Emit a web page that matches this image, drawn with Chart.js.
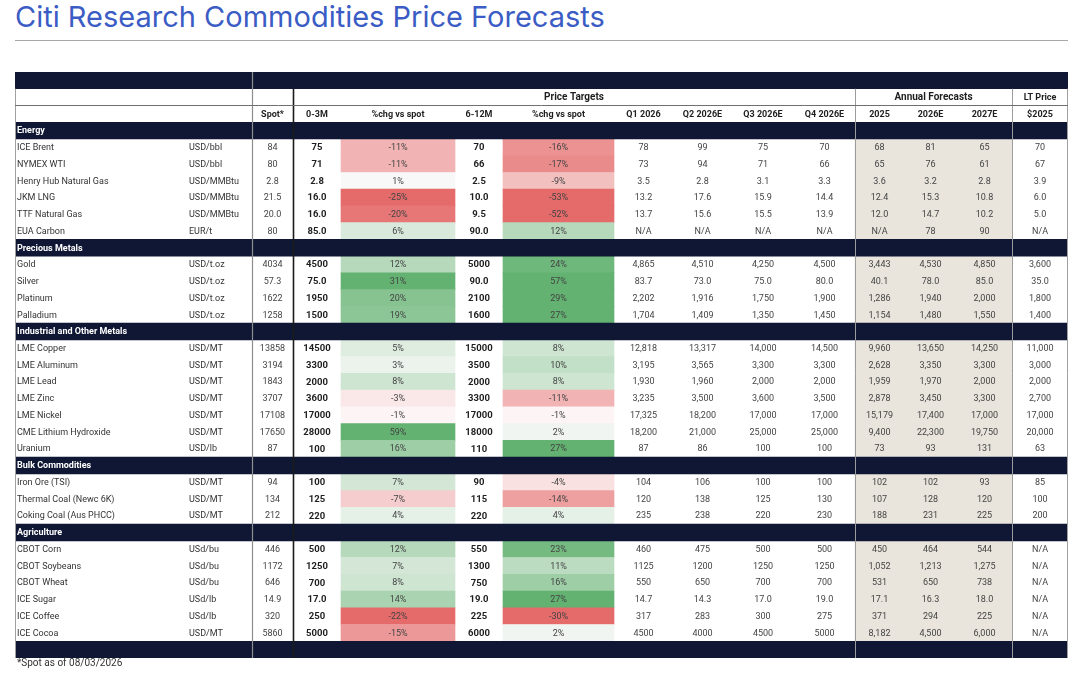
<!DOCTYPE html>
<html>
<head>
<meta charset="utf-8">
<title>Citi Research Commodities Price Forecasts</title>
<script src="https://cdn.jsdelivr.net/npm/chart.js@4.4.1/dist/chart.umd.min.js"></script>
<style>
  html, body { margin: 0; padding: 0; background: #fff; }
  body { width: 1080px; height: 673px; position: relative; overflow: hidden; }
  h1 { position: absolute; left: 15px; top: -1px; margin: 0; font: 400 29px Inter, sans-serif; color: #3b5cc4; white-space: nowrap; }
  .rule { position: absolute; left: 15px; top: 40px; width: 1053px; height: 1px; background: #a8a8a8; }
  #wrap { position: absolute; left: 15px; top: 72px; width: 1053px; height: 586px; }
  .note { position: absolute; left: 17px; top: 657px; font: 10px Roboto, sans-serif; color: #333; }
</style>
</head>
<body>
<h1>Citi Research Commodities Price Forecasts</h1>
<div class="rule"></div>
<div id="wrap"><canvas id="forecast-table" width="1053" height="586"></canvas></div>
<div class="note">*Spot as of 08/03/2026</div>

<script>
/* Data
############################################################################ */

const sections = ['Energy', 'Precious Metals', 'Industrial and Other Metals', 'Bulk Commodities', 'Agriculture'];
const sectionSizes = [6, 4, 7, 3, 6];

const commodities = [
  'ICE Brent', 'NYMEX WTI', 'Henry Hub Natural Gas', 'JKM LNG', 'TTF Natural Gas', 'EUA Carbon',
  'Gold', 'Silver', 'Platinum', 'Palladium',
  'LME Copper', 'LME Aluminum', 'LME Lead', 'LME Zinc', 'LME Nickel', 'CME Lithium Hydroxide', 'Uranium',
  'Iron Ore (TSI)', 'Thermal Coal (Newc 6K)', 'Coking Coal (Aus PHCC)',
  'CBOT Corn', 'CBOT Soybeans', 'CBOT Wheat', 'ICE Sugar', 'ICE Coffee', 'ICE Cocoa'
];
const units = [
  'USD/bbl', 'USD/bbl', 'USD/MMBtu', 'USD/MMBtu', 'USD/MMBtu', 'EUR/t',
  'USD/t.oz', 'USD/t.oz', 'USD/t.oz', 'USD/t.oz',
  'USD/MT', 'USD/MT', 'USD/MT', 'USD/MT', 'USD/MT', 'USD/MT', 'USD/lb',
  'USD/MT', 'USD/MT', 'USD/MT',
  'USd/bu', 'USd/bu', 'USd/bu', 'USd/lb', 'USd/lb', 'USD/MT'
];
const spot = [
  '84', '80', '2.8', '21.5', '20.0', '80',
  '4034', '57.3', '1622', '1258',
  '13858', '3194', '1843', '3707', '17108', '17650', '87',
  '94', '134', '212',
  '446', '1172', '646', '14.9', '320', '5860'
];
const target03 = [
  '75', '71', '2.8', '16.0', '16.0', '85.0',
  '4500', '75.0', '1950', '1500',
  '14500', '3300', '2000', '3600', '17000', '28000', '100',
  '100', '125', '220',
  '500', '1250', '700', '17.0', '250', '5000'
];
const chg03 = [
  -11, -11, 1, -25, -20, 6,
  12, 31, 20, 19,
  5, 3, 8, -3, -1, 59, 16,
  7, -7, 4,
  12, 7, 8, 14, -22, -15
];
const target612 = [
  '70', '66', '2.5', '10.0', '9.5', '90.0',
  '5000', '90.0', '2100', '1600',
  '15000', '3500', '2000', '3300', '17000', '18000', '110',
  '90', '115', '220',
  '550', '1300', '750', '19.0', '225', '6000'
];
const chg612 = [
  -16, -17, -9, -53, -52, 12,
  24, 57, 29, 27,
  8, 10, 8, -11, -1, 2, 27,
  -4, -14, 4,
  23, 11, 16, 27, -30, 2
];
const q1_2026 = [
  '78', '73', '3.5', '13.2', '13.7', 'N/A',
  '4,865', '83.7', '2,202', '1,704',
  '12,818', '3,195', '1,930', '3,235', '17,325', '18,200', '87',
  '104', '120', '235',
  '460', '1125', '550', '14.7', '317', '4500'
];
const q2_2026 = [
  '99', '94', '2.8', '17.6', '15.6', 'N/A',
  '4,510', '73.0', '1,916', '1,409',
  '13,317', '3,565', '1,960', '3,500', '18,200', '21,000', '86',
  '106', '138', '238',
  '475', '1200', '650', '14.3', '283', '4000'
];
const q3_2026 = [
  '75', '71', '3.1', '15.9', '15.5', 'N/A',
  '4,250', '75.0', '1,750', '1,350',
  '14,000', '3,300', '2,000', '3,600', '17,000', '25,000', '100',
  '100', '125', '220',
  '500', '1250', '700', '17.0', '300', '4500'
];
const q4_2026 = [
  '70', '66', '3.3', '14.4', '13.9', 'N/A',
  '4,500', '80.0', '1,900', '1,450',
  '14,500', '3,300', '2,000', '3,500', '17,000', '25,000', '100',
  '100', '130', '230',
  '500', '1250', '700', '19.0', '275', '5000'
];
const annual2025 = [
  '68', '65', '3.6', '12.4', '12.0', 'N/A',
  '3,443', '40.1', '1,286', '1,154',
  '9,960', '2,628', '1,959', '2,878', '15,179', '9,400', '73',
  '102', '107', '188',
  '450', '1,052', '531', '17.1', '371', '8,182'
];
const annual2026 = [
  '81', '76', '3.2', '15.3', '14.7', '78',
  '4,530', '78.0', '1,940', '1,480',
  '13,650', '3,350', '1,970', '3,450', '17,400', '22,300', '93',
  '102', '128', '231',
  '464', '1,213', '650', '16.3', '294', '4,500'
];
const annual2027 = [
  '65', '61', '2.8', '10.8', '10.2', '90',
  '4,850', '85.0', '2,000', '1,550',
  '14,250', '3,300', '2,000', '3,300', '17,000', '19,750', '131',
  '93', '120', '225',
  '544', '1,275', '738', '18.0', '225', '6,000'
];
const ltPrice = [
  '70', '67', '3.9', '6.0', '5.0', 'N/A',
  '3,600', '35.0', '1,800', '1,400',
  '11,000', '3,000', '2,000', '2,700', '17,000', '20,000', '63',
  '85', '100', '200',
  'N/A', 'N/A', 'N/A', 'N/A', 'N/A', 'N/A'
];

const columnHeaders = ['Spot*', '0-3M', '%chg vs spot', '6-12M', '%chg vs spot',
  'Q1 2026', 'Q2 2026E', 'Q3 2026E', 'Q4 2026E', '2025', '2026E', '2027E', '$2025'];
const groupHeaders = ['Price Targets', 'Annual Forecasts', 'LT Price'];

/* Layout
############################################################################ */

const TABLE_W = 1053;
const COLS = {
  name: [0, 172], unit: [172, 237], spot: [237, 278],
  t03: [278, 326], c03: [326, 440], t612: [440, 488], c612: [488, 599],
  q1: [599, 658], q2: [658, 717], q3: [717, 779], q4: [779, 840],
  y25: [840, 889], y26: [889, 942], y27: [942, 997], lt: [997, TABLE_W]
};
const valueCols = ['spot', 't03', 'c03', 't612', 'c612', 'q1', 'q2', 'q3', 'q4', 'y25', 'y26', 'y27', 'lt'];

const NAVY = '#0f1734';
const BEIGE = '#e9e4dc';
const FONT = 'Roboto, sans-serif';

const rows = [{ kind: 'band' }, { kind: 'group' }, { kind: 'head' }];
let k = 0;
sections.forEach((label, si) => {
  rows.push({ kind: 'section', label });
  for (let j = 0; j < sectionSizes[si]; j++) rows.push({ kind: 'data', i: k++ });
});
rows.push({ kind: 'band' });

const mix = (a, b, t) => a.map((v, n) => Math.round(v + (b[n] - v) * t));
const heat = (v) => {
  const mid = [253, 251, 252];
  const c = v < 0 ? mix(mid, [229, 106, 106], Math.min(1, -v / 22))
                  : mix(mid, [99, 178, 113], Math.min(1, v / 26));
  return `rgb(${c.join(',')})`;
};

const cellValues = (i) => ({
  spot: spot[i], t03: target03[i], c03: chg03[i] + '%', t612: target612[i], c612: chg612[i] + '%',
  q1: q1_2026[i], q2: q2_2026[i], q3: q3_2026[i], q4: q4_2026[i],
  y25: annual2025[i], y26: annual2026[i], y27: annual2027[i], lt: ltPrice[i]
});

/* Plugin: grid lines and cell texts
############################################################################ */

const tablePlugin = {
  id: 'tableText',
  afterDatasetsDraw(chart) {
    const { ctx, scales: { x, y } } = chart;
    const half = (y.getPixelForValue(1) - y.getPixelForValue(0)) / 2;
    const rowTop = (r) => y.getPixelForValue(r) - half;
    const bottom = y.getPixelForValue(rows.length - 1) + half;

    ctx.save();
    const vline = (xv, y0, y1, color, w) => {
      const px = Math.round(x.getPixelForValue(xv)) + 0.5;
      ctx.strokeStyle = color; ctx.lineWidth = w;
      ctx.beginPath(); ctx.moveTo(px, y0); ctx.lineTo(px, y1); ctx.stroke();
    };
    vline(COLS.spot[0], rowTop(0), bottom, '#8e8e8e', 1.2);
    vline(COLS.t03[0], rowTop(1), bottom, '#1b1b1b', 1.6);
    vline(COLS.y25[0], rowTop(1), bottom, '#9c9c9c', 1);
    vline(COLS.lt[0], rowTop(1), bottom, '#9c9c9c', 1);
    vline(0.3, rowTop(1), bottom, '#a0a0a0', 1);
    vline(TABLE_W - 0.7, rowTop(1), bottom, '#a0a0a0', 1);

    const hy = Math.round(rowTop(2)) + 0.5;
    ctx.strokeStyle = '#6f6f6f'; ctx.lineWidth = 1;
    ctx.beginPath(); ctx.moveTo(x.getPixelForValue(0), hy); ctx.lineTo(x.getPixelForValue(TABLE_W), hy); ctx.stroke();

    ctx.textBaseline = 'middle';
    const text = (txt, col, r, font, color, align) => {
      const [a, b] = Array.isArray(col) ? col : COLS[col];
      ctx.font = font; ctx.fillStyle = color; ctx.textAlign = align || 'center';
      const px = align === 'left' ? x.getPixelForValue(a) + 2 : x.getPixelForValue((a + b) / 2);
      ctx.fillText(txt, px, y.getPixelForValue(r) + 0.5);
    };

    rows.forEach((row, r) => {
      if (row.kind === 'group') {
        const f = `bold 10px ${FONT}`;
        text(groupHeaders[0], [COLS.t03[0], COLS.q4[1]], r, f, '#1e1e1e');
        text(groupHeaders[1], [COLS.y25[0], COLS.y27[1]], r, f, '#1e1e1e');
        text(groupHeaders[2], COLS.lt, r, `bold 9px ${FONT}`, '#1e1e1e');
      } else if (row.kind === 'head') {
        valueCols.forEach((c, n) => text(columnHeaders[n], c, r, `bold 9px ${FONT}`, '#1e1e1e'));
      } else if (row.kind === 'section') {
        text(row.label, 'name', r, `bold 9px ${FONT}`, '#ffffff', 'left');
      } else if (row.kind === 'data') {
        text(commodities[row.i], 'name', r, `9px ${FONT}`, '#333', 'left');
        text(units[row.i], 'unit', r, `9px ${FONT}`, '#333', 'left');
        const vals = cellValues(row.i);
        valueCols.forEach((c) => {
          const bold = c === 't03' || c === 't612';
          text(vals[c], c, r, `${bold ? 'bold 9.5px' : '9px'} ${FONT}`, bold ? '#1e1e1e' : '#444');
        });
      }
    });
    ctx.restore();
  }
};

/* Chart
############################################################################ */

const showForecastTable = () => {
  const isData = (r) => r.kind === 'data';

  new Chart(document.getElementById('forecast-table'), {
    type: 'bar',
    data: {
      labels: rows.map((r, n) => 'row' + n),
      datasets: [
        {
          label: 'bands',
          data: rows.map((r) => (r.kind === 'band' || r.kind === 'section') ? [0, TABLE_W] : null),
          backgroundColor: NAVY
        },
        {
          label: 'annual',
          data: rows.map((r) => isData(r) ? [COLS.y25[0], COLS.y27[1]] : null),
          backgroundColor: BEIGE
        },
        {
          label: 'chg 0-3M',
          data: rows.map((r) => isData(r) ? COLS.c03 : null),
          backgroundColor: rows.map((r) => isData(r) ? heat(chg03[r.i]) : 'transparent')
        },
        {
          label: 'chg 6-12M',
          data: rows.map((r) => isData(r) ? COLS.c612 : null),
          backgroundColor: rows.map((r) => isData(r) ? heat(chg612[r.i]) : 'transparent')
        }
      ]
    },
    options: {
      indexAxis: 'y',
      responsive: false,
      animation: false,
      layout: { padding: 0 },
      datasets: { bar: { grouped: false, barPercentage: 1, categoryPercentage: 1, borderWidth: 0 } },
      scales: {
        x: { type: 'linear', min: 0, max: TABLE_W, display: false },
        y: { type: 'category', offset: true, display: false }
      },
      plugins: { legend: { display: false }, tooltip: { enabled: false } }
    },
    plugins: [tablePlugin]
  });
};

/* Main
############################################################################ */

document.addEventListener('DOMContentLoaded', showForecastTable);
</script>
</body>
</html>
